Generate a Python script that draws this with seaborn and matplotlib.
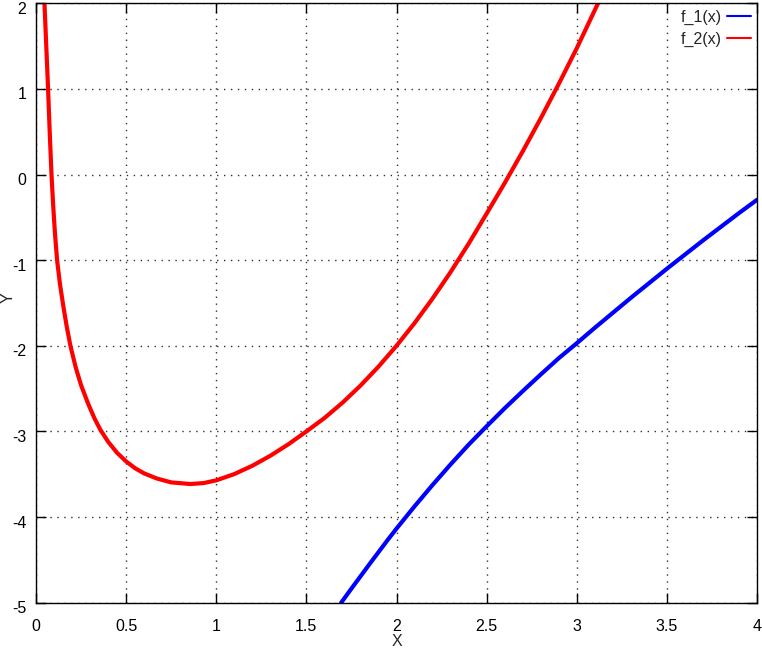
import numpy as np
import pandas as pd
import matplotlib
matplotlib.use("Agg")
import matplotlib.pyplot as plt
import matplotlib.transforms as mtransforms
from matplotlib.lines import Line2D
import seaborn as sns

# values
f1_x = [1.693, 1.75, 1.85, 1.95, 2.0, 2.1, 2.2, 2.3, 2.4, 2.5, 2.6, 2.7, 2.8, 2.9,
        3.0, 3.1, 3.2, 3.3, 3.4, 3.5, 3.6, 3.7, 3.8, 3.9, 4.0]
f1_y = [-5.0, -4.835, -4.55, -4.27, -4.135, -3.875, -3.625, -3.385, -3.155, -2.94,
        -2.73, -2.53, -2.335, -2.145, -1.97, -1.79, -1.615, -1.44, -1.27, -1.1,
        -0.935, -0.77, -0.61, -0.45, -0.295]

f2_x = [0.047, 0.057, 0.067, 0.076, 0.086, 0.095, 0.105, 0.117, 0.133, 0.151, 0.17,
        0.191, 0.22, 0.25, 0.29, 0.325, 0.357, 0.4, 0.45, 0.5, 0.55, 0.6, 0.671,
        0.75, 0.856, 0.93, 1.0, 1.1, 1.2, 1.3, 1.4, 1.5, 1.6, 1.7, 1.8,
        1.9, 2.0, 2.1, 2.2, 2.3, 2.4, 2.5, 2.6, 2.7, 2.8, 2.9, 3.0, 3.118]
f2_y = [2.0, 1.5, 1.0, 0.5, 0.0, -0.35, -0.68, -1.0, -1.28, -1.53, -1.77,
        -2.0, -2.25, -2.46, -2.68, -2.85, -2.98, -3.12, -3.25, -3.35, -3.43, -3.49, -3.55,
        -3.595, -3.614, -3.603, -3.571, -3.498, -3.401, -3.284, -3.15, -3.0, -2.844,
        -2.665, -2.465, -2.243, -2.0, -1.735, -1.448, -1.139, -0.808, -0.456, -0.10,
        0.27, 0.656, 1.058, 1.475, 2.0]

labels = ["f_1(x)", "f_2(x)"]
colors = ["#0000ff", "#ff0000"]

df = pd.concat([
    pd.DataFrame({"x": f1_x, "y": f1_y, "f": labels[0]}),
    pd.DataFrame({"x": f2_x, "y": f2_y, "f": labels[1]}),
])

sns.set_style("ticks")
plt.rcParams["font.family"] = ["Liberation Sans", "DejaVu Sans"]
plt.rcParams["axes.unicode_minus"] = False

fig = plt.figure(figsize=(7.62, 6.53), dpi=100)
ax = fig.add_axes([36 / 762, 50.3 / 653, 721 / 762, 599.4 / 653])

sns.lineplot(data=df, x="x", y="y", hue="f", palette=colors, linewidth=3,
             legend=False, ax=ax, estimator=None, sort=False)

ax.set_xlim(0, 4)
ax.set_ylim(-5, 2)
ax.set_xticks(np.arange(0, 4.01, 0.5))
ax.set_xticklabels(["0", "0.5", "1", "1.5", "2", "2.5", "3", "3.5", "4"])
ax.set_yticks(range(-5, 3))

ax.grid(True, color="#303030", linestyle=(0, (1, 4)), linewidth=1)
for s in ax.spines.values():
    s.set_color("black")
    s.set_linewidth(1)
ax.tick_params(direction="in", length=7, width=1, top=True, right=True,
               labelsize=11.5, colors="black")
ax.tick_params(axis="x", pad=12)
ax.tick_params(axis="y", pad=7)

# gnuplot puts the y labels a few pixels below their ticks
shift = mtransforms.ScaledTranslation(0, -4.5 / 100, fig.dpi_scale_trans)
for lab in ax.get_yticklabels():
    lab.set_transform(lab.get_transform() + shift)

ax.set_xlabel("X", fontsize=11.5, labelpad=0)
ax.set_ylabel("")
fig.text(8 / 762, 1 - 298 / 653, "Y", rotation=90, ha="center", va="center",
         fontsize=11.5)

handles = [Line2D([], [], color=c, linewidth=1.5) for c in colors]
ax.legend(handles, labels, loc="upper right", frameon=False, markerfirst=False,
          fontsize=11.5, handlelength=1.5, handletextpad=0.3, labelspacing=0.45,
          borderaxespad=0.0)

fig.savefig("out.png", dpi=100)
